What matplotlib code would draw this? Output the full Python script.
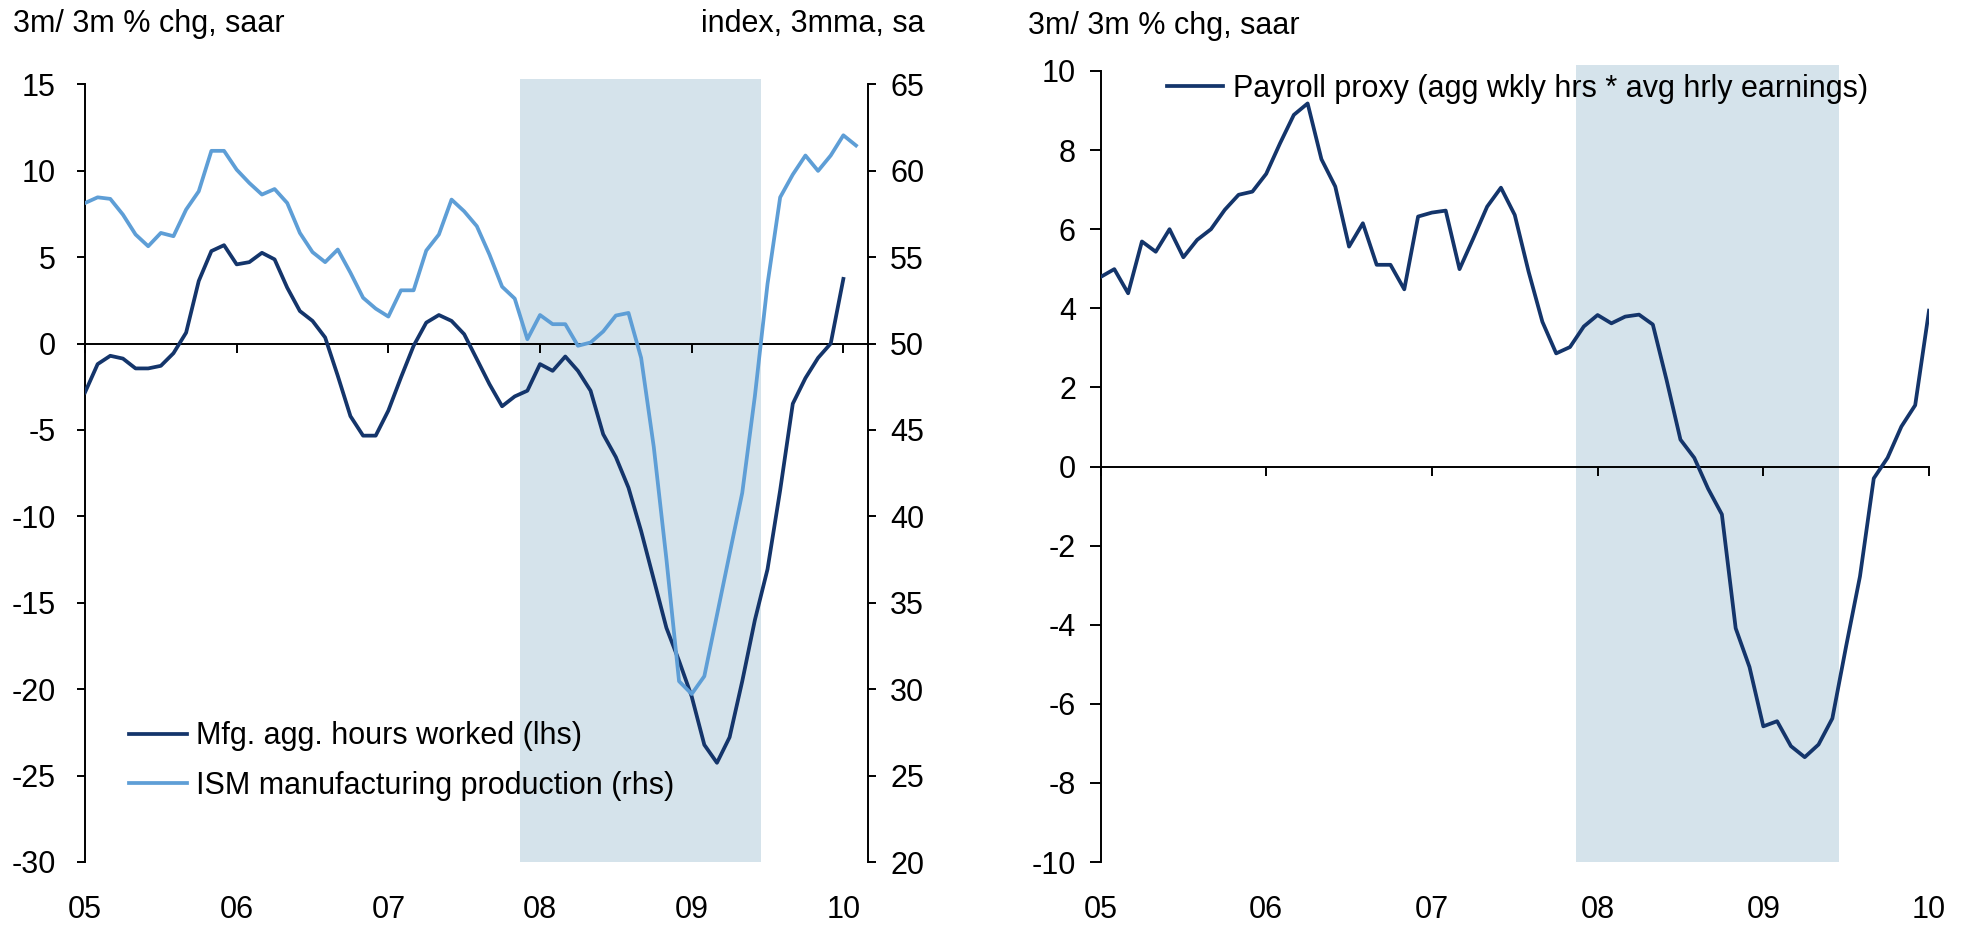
import matplotlib
matplotlib.use("Agg")
import matplotlib.pyplot as plt
import numpy as np

plt.rcParams['font.family'] = ['Liberation Sans', 'DejaVu Sans']
plt.rcParams['axes.unicode_minus'] = False

# ---------------- data (monthly, Jan 2005 onward) ----------------
year_labels = ['05', '06', '07', '08', '09', '10']

hours_worked = [-2.83, -1.19, -0.71, -0.87, -1.44, -1.44, -1.29, -0.56, 0.63, 3.62,
                5.35, 5.69, 4.58, 4.71, 5.25, 4.87, 3.23, 1.88, 1.31, 0.35,
                -1.87, -4.2, -5.33, -5.33, -3.88, -1.96, -0.13, 1.21, 1.65, 1.31,
                0.54, -0.90, -2.35, -3.63, -3.06, -2.73, -1.19, -1.58, -0.75, -1.58,
                -2.73, -5.25, -6.57, -8.34, -10.85, -13.65, -16.45, -18.36, -20.42, -23.22,
                -24.26, -22.78, -19.54, -16.0, -13.06, -8.49, -3.48, -2.0, -0.83, 0.0,
                3.74]

ism_production = [58.13, 58.46, 58.37, 57.46, 56.31, 55.63, 56.40, 56.21, 57.75, 58.81,
                  61.15, 61.15, 60.06, 59.29, 58.62, 58.94, 58.13, 56.40, 55.29, 54.71,
                  55.44, 54.1, 52.65, 52.02, 51.56, 53.08, 53.08, 55.38, 56.31, 58.33,
                  57.65, 56.79, 55.15, 53.29, 52.60, 50.25, 51.65, 51.12, 51.12, 49.87,
                  50.06, 50.7, 51.62, 51.77, 49.17, 44.02, 37.53, 30.46, 29.72, 30.75,
                  34.29, 37.83, 41.36, 46.96, 53.45, 58.46, 59.78, 60.88, 59.99, 60.88,
                  62.05, 61.46]

payroll_proxy = [4.79, 4.99, 4.38, 5.69, 5.43, 6.00, 5.29, 5.73, 6.00, 6.49,
                 6.87, 6.95, 7.40, 8.17, 8.89, 9.18, 7.77, 7.08, 5.56, 6.15,
                 5.10, 5.10, 4.48, 6.32, 6.42, 6.47, 4.99, 5.77, 6.57, 7.05,
                 6.36, 4.93, 3.66, 2.86, 3.02, 3.54, 3.83, 3.62, 3.79, 3.84,
                 3.59, 2.18, 0.68, 0.22, -0.56, -1.21, -4.09, -5.07, -6.57, -6.44,
                 -7.07, -7.35, -7.03, -6.37, -4.54, -2.78, -0.30, 0.22, 1.01, 1.55,
                 3.94]

recession = [34.4, 53.5]   # month index (Jan 2005 = 0)

# ---------------- styling ----------------
DARK = '#14356b'
LIGHT = '#5e9ed6'
SHADE = '#d5e3eb'
FS = 22
LW = 2.7

W, H = 1968, 925
fig = plt.figure(figsize=(W / 100, H / 100), dpi=100)


def rect(l, t, r, b):
    return [l / W, 1 - b / H, (r - l) / W, (b - t) / H]


year_ticks = [12 * i for i in range(len(year_labels))]


def style_xaxis(ax):
    ax.spines['top'].set_visible(False)
    ax.spines['bottom'].set_position(('data', 0))
    ax.spines['bottom'].set_linewidth(1.4)
    ax.set_xticks(year_ticks)
    ax.tick_params(axis='x', direction='out', length=6.5, width=1.4,
                   labelbottom=False)
    sec = ax.secondary_xaxis('bottom')
    sec.set_xticks(year_ticks)
    sec.set_xticklabels(year_labels)
    sec.tick_params(axis='x', length=0, pad=24, labelsize=FS)
    sec.spines['bottom'].set_visible(False)


# ---------------- left panel ----------------
ax = fig.add_axes(rect(85, 84.3, 868, 862))
ax2 = ax.twinx()
ax.set_xlim(0, 61.95)
ax.set_ylim(-30, 15)
ax2.set_ylim(20, 65)
ax.set_yticks(np.arange(-30, 16, 5))
ax2.set_yticks(np.arange(20, 66, 5))

ax.axvspan(recession[0], recession[1], ymin=0, ymax=1.007, color=SHADE,
           lw=0, zorder=0, clip_on=False)
l1, = ax.plot(np.arange(len(hours_worked)), hours_worked, color=DARK, lw=LW,
              zorder=3, label='Mfg. agg. hours worked (lhs)')
l2, = ax2.plot(np.arange(len(ism_production)), ism_production, color=LIGHT, lw=LW,
               zorder=3, label='ISM manufacturing production (rhs)')

style_xaxis(ax)
for a in (ax, ax2):
    a.spines['top'].set_visible(False)
    a.spines['bottom'].set_visible(a is ax)
ax.spines['left'].set_linewidth(1.4)
ax2.spines['right'].set_linewidth(1.4)
ax2.spines['left'].set_visible(False)
ax.spines['right'].set_visible(False)
ax.tick_params(axis='y', direction='out', length=6, width=1.4, pad=15, labelsize=FS)
ax2.tick_params(axis='y', direction='out', length=6, width=1.4, pad=10, labelsize=FS)

fig.legend(handles=[l1, l2], loc='center left',
           bbox_to_anchor=(129 / W, 1 - 761 / H), frameon=False, fontsize=FS,
           handlelength=1.9, handletextpad=0.3, labelspacing=0.64,
           borderpad=0, borderaxespad=0)

fig.text(12.7 / W, 1 - 32 / H, '3m/ 3m % chg, saar', fontsize=FS,
         ha='left', va='baseline')
fig.text(925 / W, 1 - 32 / H, 'index, 3mma, sa', fontsize=FS,
         ha='right', va='baseline')

# ---------------- right panel ----------------
ax3 = fig.add_axes(rect(1100.5, 71, 1929, 862))
ax3.set_xlim(0, 60)
ax3.set_ylim(-10, 10)
ax3.set_yticks(np.arange(-10, 11, 2))
ax3.axvspan(recession[0], recession[1], ymin=0, ymax=1.0075, color=SHADE,
            lw=0, zorder=0, clip_on=False)
l3, = ax3.plot(np.arange(len(payroll_proxy)), payroll_proxy, color=DARK, lw=LW,
               zorder=3, label='Payroll proxy (agg wkly hrs * avg hrly earnings)')
style_xaxis(ax3)
ax3.spines['right'].set_visible(False)
ax3.spines['left'].set_linewidth(1.4)
ax3.tick_params(axis='y', direction='out', length=7.7, width=1.4, pad=10, labelsize=FS)

fig.legend(handles=[l3], loc='center left',
           bbox_to_anchor=(1166.7 / W, 1 - 89 / H), frameon=False, fontsize=FS,
           handlelength=1.85, handletextpad=0.32,
           borderpad=0, borderaxespad=0)

fig.text(1028 / W, 1 - 34 / H, '3m/ 3m % chg, saar', fontsize=FS,
         ha='left', va='baseline')

fig.savefig('out.png', dpi=100, facecolor='white')
